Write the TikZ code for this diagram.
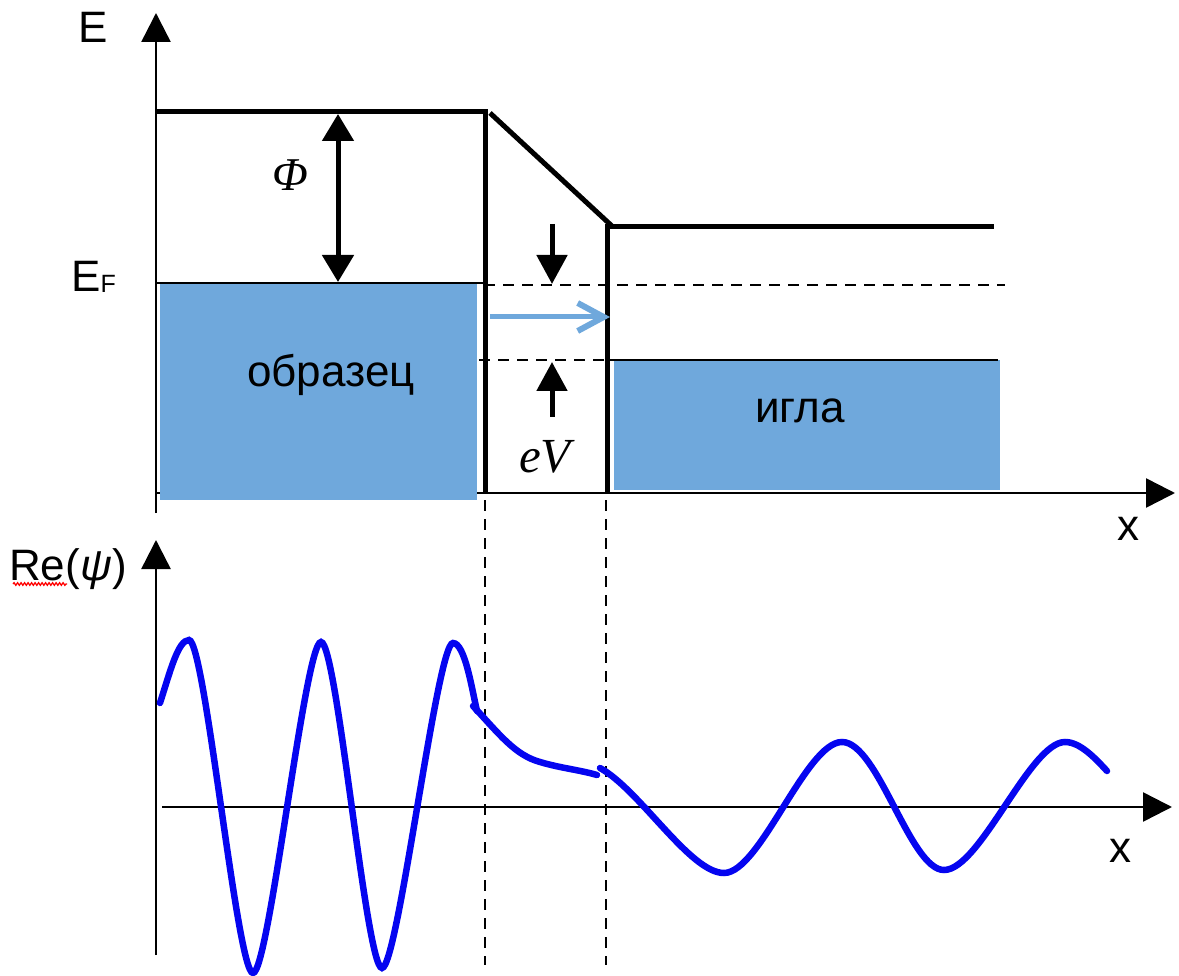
\documentclass[tikz,border=0pt]{standalone}
\usepackage{fontspec}
\setmainfont{Liberation Sans}
\newfontfamily\timesfont{Liberation Serif}
\usetikzlibrary{arrows.meta,decorations.pathmorphing}
\definecolor{bandblue}{RGB}{111,168,220}
\definecolor{waveblue}{RGB}{5,5,240}
\tikzset{
  axisline/.style={line width=2.5pt, -{Triangle[length=29pt,width=29pt]}},
  levelline/.style={line width=5pt},
  thinline/.style={line width=2.5pt},
  dashline/.style={line width=2pt, dash pattern=on 11pt off 8pt},
  bandbox/.style={fill=bandblue, draw=none},
  gaparrow/.style={line width=5pt, -{Triangle[length=29pt,width=30pt]}},
  lbl/.style={font=\fontsize{44}{48}\selectfont, inner sep=0pt},
  wavecurve/.style={waveblue, line width=6.5pt, line cap=round}
}

\begin{document}
\begin{tikzpicture}[x=1pt,y=-1pt]
  \useasboundingbox (0,0) rectangle (1179,976);

  % Energy diagram
  \coordinate (Ebot) at (156,513);
  \coordinate (Etop) at (156,13);
  \coordinate (xo) at (156,493);
  \coordinate (xend) at (1175,493);
  \draw[axisline] (Ebot) -- (Etop);
  \draw[axisline] (xo) -- (xend);

  \fill[bandblue] (160,283) rectangle (477,500);
  \fill[bandblue] (614,360) rectangle (1000,490);
  \draw[thinline] (156,283) -- (483,283);
  \draw[thinline] (607,360) -- (998,360);

  \draw[levelline, line join=miter] (156,112) -- (485,112) -- (485,493);
  \draw[levelline, line join=miter] (607,493) -- (607,227) -- (994,227);
  \draw[levelline] (490,113) -- (613,227);

  \draw[dashline] (484,285) -- (1005,285);
  \draw[dashline] (479,360) -- (607,360);

  % Phi and eV
  \coordinate (phitop) at (338,114);
  \coordinate (phibot) at (338,282);
  \draw[line width=5pt, {Triangle[length=27pt,width=31pt]}-{Triangle[length=27pt,width=31pt]}] (phitop) -- (phibot);
  \coordinate (dn1) at (552,224);
  \coordinate (dn2) at (552,284);
  \coordinate (up1) at (552,417);
  \coordinate (up2) at (552,362);
  \draw[gaparrow] (dn1) -- (dn2);
  \draw[gaparrow] (up1) -- (up2);
  \coordinate (tun1) at (490,317);
  \coordinate (tun2) at (610,317);
  \draw[bandblue, line width=5pt, -{Straight Barb[length=26pt,width=28pt,line width=6pt]}] (tun1) -- (tun2);

  \node[lbl] (Elbl) at (93,27) {E};
  \node[lbl, anchor=base west] (EFlbl) at (71,292) {E\raisebox{-1pt}{\fontsize{25}{25}\selectfont F}};
  \node[lbl, font=\fontsize{47}{50}\timesfont\itshape] (philbl) at (290,175) {Φ};
  \node[lbl, font=\fontsize{49}{52}\timesfont\itshape, anchor=base] (eVlbl) at (545,472) {eV};
  \node[lbl, anchor=base] (sample) at (331,387) {образец};
  \node[lbl, anchor=base] (tip) at (800,423) {игла};
  \node[lbl, anchor=base] (x1lbl) at (1128,540) {x};

  % Wave function
  \draw[dashline] (485,500) -- (485,965);
  \draw[dashline] (606,500) -- (606,965);
  \coordinate (Rbot) at (156,955);
  \coordinate (Rtop) at (156,540);
  \coordinate (wo) at (162,807);
  \coordinate (wend) at (1172,807);
  \draw[axisline] (Rbot) -- (Rtop);
  \draw[axisline] (wo) -- (wend);

  \node[lbl, anchor=base west] (Relbl) at (9,580) {Re(\textit{ψ})};
  \draw[red, line width=1.3pt, decorate, decoration={snake, amplitude=1.3pt, segment length=3.5pt}] (13,584) -- (67,584);
  \node[lbl, anchor=base] (x2lbl) at (1120,862) {x};

  \draw[wavecurve] (160,703) .. controls (170,672) and (178,640) .. (189,640)
    .. controls (205,640) and (237,973) .. (253,973)
    .. controls (269,973) and (305,642) .. (321,642)
    .. controls (337,642) and (366,968) .. (382,968)
    .. controls (398,968) and (437,643) .. (453,643)
    .. controls (465,643) and (472,690) .. (477,711);
  \draw[wavecurve] (473,706) .. controls (500,735) and (515,755) .. (540,762)
    .. controls (560,768) and (580,770) .. (597,775);
  \draw[wavecurve] (600,768) .. controls (640,790) and (690,873) .. (724,873)
    .. controls (760,873) and (806,742) .. (842,742)
    .. controls (878,742) and (910,870) .. (944,870)
    .. controls (980,870) and (1030,742) .. (1065,742)
    .. controls (1080,742) and (1095,758) .. (1107,771);
\end{tikzpicture}
\end{document}
